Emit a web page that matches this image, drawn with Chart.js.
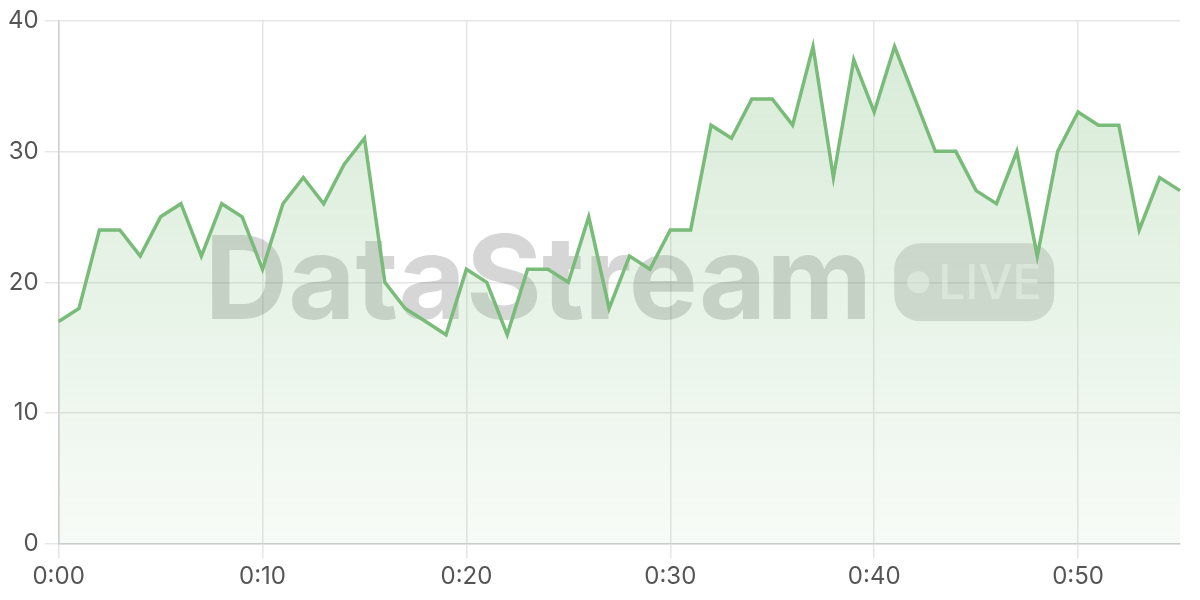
<!DOCTYPE html>
<html>
<head>
<meta charset="utf-8">
<script src="https://cdn.jsdelivr.net/npm/chart.js@4/dist/chart.umd.min.js"></script>
<style>
  html, body { margin: 0; padding: 0; background: #fff; }
  #wrap { width: 1200px; height: 600px; }
</style>
</head>
<body>
<div id="wrap"><canvas id="streamChart"></canvas></div>
<script>
// minute labels, 0:00 .. 0:55
const minuteLabels = [
  "0:00", "0:01", "0:02", "0:03", "0:04", "0:05", "0:06", "0:07", "0:08", "0:09",
  "0:10", "0:11", "0:12", "0:13", "0:14", "0:15", "0:16", "0:17", "0:18", "0:19",
  "0:20", "0:21", "0:22", "0:23", "0:24", "0:25", "0:26", "0:27", "0:28", "0:29",
  "0:30", "0:31", "0:32", "0:33", "0:34", "0:35", "0:36", "0:37", "0:38", "0:39",
  "0:40", "0:41", "0:42", "0:43", "0:44", "0:45", "0:46", "0:47", "0:48", "0:49",
  "0:50", "0:51", "0:52", "0:53", "0:54", "0:55"
]
const streamValues = [
  17, 18, 24, 24, 22, 25, 26, 22, 26, 25,
  21, 26, 28, 26, 29, 31, 20, 18, 17, 16,
  21, 20, 16, 21, 21, 20, 25, 18, 22, 21,
  24, 24, 32, 31, 34, 34, 32, 38, 28, 37,
  33, 38, 34, 30, 30, 27, 26, 30, 22, 30,
  33, 32, 32, 24, 28, 27
]
const yTicks = [0, 10, 20, 30, 40]
const labelEvery = 10

const lineColor = "#79bb78"
const tickFont = { family: "Inter, 'Open Sans', sans-serif", size: 24 }

// watermark "DataStream  ● LIVE"
const watermark = {
  id: "watermark",
  beforeDatasetsDraw(chart) {
    const { ctx, chartArea } = chart
    const cx = (chartArea.left + chartArea.right) / 2 + 10
    const cy = (chartArea.top + chartArea.bottom) / 2
    ctx.save()
    ctx.font = "bold 116px Inter, 'Open Sans', sans-serif"
    const title = "DataStream"
    const tw = ctx.measureText(title).width
    const pillW = 160, pillH = 78, gap = 22
    const total = tw + gap + pillW
    const x0 = cx - total / 2
    ctx.fillStyle = "rgba(0, 0, 0, 0.16)"
    ctx.textBaseline = "middle"
    ctx.textAlign = "left"
    ctx.fillText(title, x0, cy + 2)

    const px = x0 + tw + gap
    const py = cy - pillH / 2
    ctx.beginPath()
    ctx.roundRect(px, py, pillW, pillH, 26)
    ctx.fillStyle = "rgba(0, 0, 0, 0.13)"
    ctx.fill()

    ctx.fillStyle = "rgba(255, 255, 255, 0.5)"
    ctx.beginPath()
    ctx.arc(px + 24, cy, 11, 0, Math.PI * 2)
    ctx.fill()
    ctx.font = "500 48px Inter, 'Open Sans', sans-serif"
    ctx.fillText("LIVE", px + 44, cy + 2)
    ctx.restore()
  }
}

const ctx = document.getElementById("streamChart")
new Chart(ctx, {
  type: "line",
  data: {
    labels: minuteLabels,
    datasets: [
      {
        label: "stream",
        data: streamValues,
        borderColor: lineColor,
        borderWidth: 3.5,
        pointRadius: 0,
        tension: 0,
        fill: "origin",
        backgroundColor: (c) => {
          const area = c.chart.chartArea
          if (!area) return "rgba(121, 187, 120, 0.15)"
          const g = c.chart.ctx.createLinearGradient(0, area.top, 0, area.bottom)
          g.addColorStop(0, "rgba(121, 187, 120, 0.30)")
          g.addColorStop(1, "rgba(121, 187, 120, 0.06)")
          return g
        },
      },
    ],
  },
  options: {
    responsive: true,
    maintainAspectRatio: false,
    animation: false,
    layout: { padding: { top: 3, right: 20, left: 2, bottom: 5 } },
    plugins: {
      legend: { display: false },
      tooltip: { enabled: false },
    },
    scales: {
      x: {
        ticks: {
          autoSkip: false,
          maxRotation: 0,
          color: "#555",
          font: tickFont,
          padding: 4,
          callback: (v, i) => (i % labelEvery === 0 ? minuteLabels[i] : ""),
        },
        grid: {
          color: (c) => (c.index % labelEvery === 0 ? "#e6e6e6" : "rgba(0,0,0,0)"),
          tickLength: 14,
          lineWidth: 1.5,
        },
        border: { color: "#cfcfcf", width: 1.5 },
      },
      y: {
        min: 0,
        max: 40,
        afterBuildTicks: (axis) => {
          axis.ticks = yTicks.map((v) => ({ value: v }))
        },
        ticks: {
          color: "#555",
          font: tickFont,
          padding: 6,
        },
        grid: { color: "#e6e6e6", tickLength: 14, lineWidth: 1.5 },
        border: { color: "#cfcfcf", width: 1.5 },
      },
    },
  },
  plugins: [watermark],
})
</script>
</body>
</html>
